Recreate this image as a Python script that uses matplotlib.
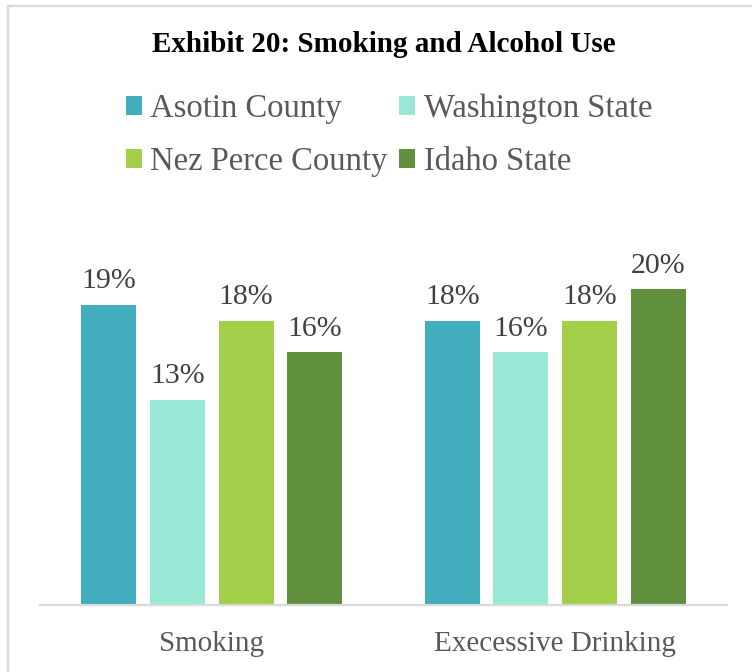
import matplotlib
matplotlib.use("Agg")
import matplotlib.pyplot as plt
from matplotlib.patches import Patch, Rectangle

# Показатели по регионам, %
categories = ["Smoking", "Execessive Drinking"]
regions = ["Asotin County", "Washington State", "Nez Perce County", "Idaho State"]
values = {
    "Asotin County": [19, 18],
    "Washington State": [13, 16],
    "Nez Perce County": [18, 18],
    "Idaho State": [16, 20],
}
colors = ["#41ADBD", "#9AE9D7", "#A4CF4B", "#608F3E"]

plt.rcParams["font.family"] = ["Liberation Serif", "DejaVu Serif"]

fig = plt.figure(figsize=(7.52, 6.72), dpi=100)
ax = fig.add_axes([40 / 752, 1 - 605 / 672, 687 / 752, 395 / 672])

# рамка вокруг графика
fig.patches.append(Rectangle((8 / 752, -0.1), 1.2, 1 - 6 / 672 + 0.1,
                             transform=fig.transFigure, fill=False,
                             edgecolor="#D9D9D9", linewidth=1.6))

width = 0.16
offsets = [-0.3, -0.1, 0.1, 0.3]
x = list(range(len(categories)))
for i, name in enumerate(regions):
    bars = ax.bar([p + offsets[i] for p in x], values[name], width,
                  color=colors[i], label=name)
    ax.bar_label(bars, fmt="%d%%", padding=7.5, fontsize=21.5, color="#404040")

ax.set_xlim(-0.5, 1.5)
ax.set_ylim(0, 25)
ax.set_yticks([])
ax.set_xticks(x)
ax.set_xticklabels(categories, fontsize=21, color="#595959")
ax.tick_params(axis="x", length=0, pad=18.5)
for s in ["top", "left", "right"]:
    ax.spines[s].set_visible(False)
ax.spines["bottom"].set_color("#D9D9D9")
ax.spines["bottom"].set_linewidth(1.6)

fig.text(383.5 / 752, 1 - 45 / 672, "Exhibit 20: Smoking and Alcohol Use",
         ha="center", va="center", fontsize=21, fontweight="bold", color="black")

# легенда заполняется по столбцам, поэтому порядок переставлен
order = [0, 2, 1, 3]
handles = [Patch(facecolor=colors[k]) for k in order]
labels = [regions[k] for k in order]
fig.legend(handles, labels, loc="center", bbox_to_anchor=(389 / 752, 1 - 135.5 / 672),
           ncol=2, frameon=False, fontsize=23.5, labelcolor="#595959",
           handlelength=0.5, handleheight=0.5, handletextpad=0.25,
           columnspacing=0.35, labelspacing=0.69, borderpad=0)

fig.savefig("out.png", dpi=100)
